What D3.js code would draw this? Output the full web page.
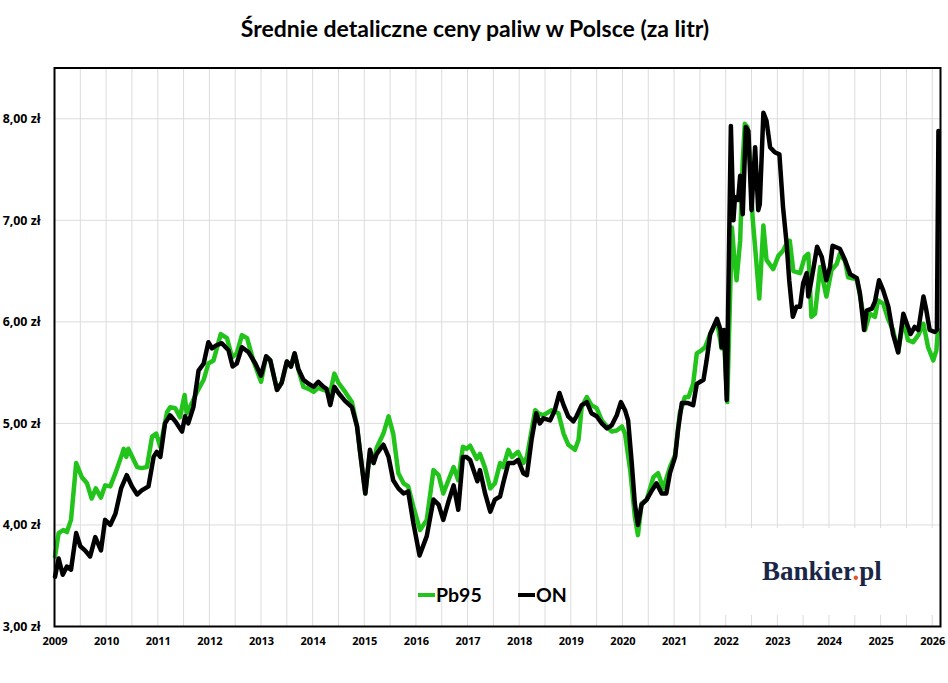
<!DOCTYPE html>
<html>
<head>
<meta charset="utf-8">
<script src="https://cdn.jsdelivr.net/npm/d3@7"></script>
<style>
  body { margin: 0; background: #fff; }
  svg { display: block; }
</style>
</head>
<body>
<svg id="chart" width="948" height="683"></svg>
<script>
// Pb95 - time (decimal year) and price
var pbYears = [2009.01, 2009.08, 2009.17, 2009.24, 2009.32, 2009.42, 2009.53, 2009.63, 2009.72, 2009.80, 2009.90, 2009.98,
  2010.08, 2010.18, 2010.31, 2010.34, 2010.39, 2010.43, 2010.60, 2010.69, 2010.79, 2010.89, 2010.97,
  2011.05, 2011.18, 2011.24, 2011.34, 2011.43, 2011.52, 2011.56, 2011.66, 2011.76, 2011.89, 2011.98,
  2012.08, 2012.22, 2012.34, 2012.44, 2012.53, 2012.63, 2012.73, 2012.85, 2013.00,
  2013.10, 2013.18, 2013.31, 2013.40, 2013.50, 2013.58, 2013.65, 2013.72, 2013.82, 2013.92,
  2014.02, 2014.11, 2014.21, 2014.27, 2014.34, 2014.42, 2014.50, 2014.63, 2014.76, 2014.86, 2014.92,
  2015.02, 2015.11, 2015.18, 2015.24, 2015.37, 2015.47, 2015.56, 2015.66, 2015.76, 2015.85, 2015.95,
  2016.08, 2016.21, 2016.34, 2016.44, 2016.53, 2016.63, 2016.73, 2016.82, 2016.91, 2016.98,
  2017.05, 2017.18, 2017.24, 2017.34, 2017.44, 2017.53, 2017.63, 2017.69, 2017.79, 2017.86, 2017.98,
  2018.08, 2018.15, 2018.31, 2018.37, 2018.47, 2018.63, 2018.76, 2018.86, 2018.95,
  2019.08, 2019.15, 2019.21, 2019.31, 2019.40, 2019.50, 2019.60, 2019.70, 2019.79, 2019.89, 2019.99,
  2020.05, 2020.15, 2020.24, 2020.30, 2020.37, 2020.47, 2020.60, 2020.69, 2020.79, 2020.92,
  2021.02, 2021.11, 2021.21, 2021.28, 2021.37, 2021.44, 2021.53, 2021.60, 2021.70, 2021.83, 2021.92, 2021.97,
  2022.03, 2022.12, 2022.16, 2022.21, 2022.28, 2022.33, 2022.37, 2022.42, 2022.47, 2022.52, 2022.59, 2022.65,
  2022.73, 2022.79, 2022.92, 2023.02, 2023.11, 2023.21, 2023.24, 2023.31, 2023.44, 2023.53, 2023.60,
  2023.66, 2023.73, 2023.83, 2023.95, 2024.05, 2024.15, 2024.21, 2024.31, 2024.37, 2024.54, 2024.63,
  2024.70, 2024.79, 2024.89, 2024.95, 2025.05, 2025.15, 2025.24, 2025.34, 2025.44, 2025.53, 2025.63,
  2025.73, 2025.83, 2025.92, 2026.02, 2026.08, 2026.11];
var pbPrices = [3.69, 3.92, 3.95, 3.93, 4.05, 4.61, 4.47, 4.41, 4.26, 4.36, 4.27, 4.39,
  4.38, 4.51, 4.70, 4.75, 4.67, 4.75, 4.57, 4.56, 4.57, 4.87, 4.90,
  4.77, 5.11, 5.16, 5.15, 5.06, 5.28, 5.10, 5.20, 5.31, 5.43, 5.59,
  5.62, 5.88, 5.84, 5.65, 5.69, 5.87, 5.84, 5.62, 5.41,
  5.66, 5.62, 5.33, 5.40, 5.61, 5.56, 5.69, 5.54, 5.36, 5.34,
  5.31, 5.35, 5.33, 5.32, 5.30, 5.49, 5.40, 5.31, 5.21, 4.97, 4.71,
  4.31, 4.72, 4.61, 4.76, 4.90, 5.07, 4.90, 4.51, 4.41, 4.38, 4.18,
  3.95, 4.05, 4.54, 4.49, 4.31, 4.44, 4.57, 4.44, 4.77, 4.75,
  4.78, 4.65, 4.70, 4.56, 4.36, 4.41, 4.61, 4.57, 4.74, 4.67, 4.72,
  4.61, 4.67, 5.13, 5.10, 5.08, 5.13, 5.10, 4.90, 4.79,
  4.74, 4.84, 5.16, 5.26, 5.18, 5.15, 5.03, 4.97, 4.92, 4.93, 4.97,
  4.90, 4.54, 4.08, 3.90, 4.21, 4.25, 4.47, 4.51, 4.36, 4.57,
  4.69, 5.10, 5.26, 5.26, 5.39, 5.69, 5.72, 5.75, 5.88, 6.01, 5.74, 5.82,
  5.21, 6.93, 6.67, 6.41, 6.80, 7.59, 7.95, 7.92, 7.59, 7.03, 6.61, 6.23,
  6.95, 6.61, 6.52, 6.65, 6.70, 6.80, 6.80, 6.50, 6.48, 6.64, 6.67,
  6.05, 6.08, 6.54, 6.25, 6.51, 6.57, 6.67, 6.60, 6.44, 6.42, 6.18,
  5.92, 6.08, 6.05, 6.21, 6.18, 6.02, 5.92, 5.70, 6.02, 5.82, 5.80,
  5.87, 5.98, 5.75, 5.62, 5.72, 5.92];

// ON (diesel)
var onYears = [2009.01, 2009.08, 2009.16, 2009.24, 2009.32, 2009.42, 2009.50, 2009.59, 2009.69, 2009.79, 2009.90, 2009.98,
  2010.08, 2010.18, 2010.29, 2010.40, 2010.50, 2010.60, 2010.69, 2010.82, 2010.92, 2010.98,
  2011.05, 2011.14, 2011.24, 2011.34, 2011.47, 2011.53, 2011.59, 2011.69, 2011.79, 2011.89, 2011.98,
  2012.05, 2012.14, 2012.24, 2012.37, 2012.45, 2012.53, 2012.63, 2012.76, 2012.89, 2013.00,
  2013.10, 2013.18, 2013.31, 2013.40, 2013.50, 2013.58, 2013.65, 2013.72, 2013.82, 2013.92,
  2014.02, 2014.11, 2014.21, 2014.27, 2014.34, 2014.42, 2014.50, 2014.63, 2014.76, 2014.86, 2014.92,
  2015.02, 2015.11, 2015.18, 2015.24, 2015.37, 2015.47, 2015.56, 2015.66, 2015.76, 2015.85, 2015.95,
  2016.07, 2016.21, 2016.34, 2016.44, 2016.53, 2016.63, 2016.73, 2016.82, 2016.91, 2016.98,
  2017.05, 2017.19, 2017.24, 2017.34, 2017.44, 2017.53, 2017.63, 2017.69, 2017.79, 2017.89, 2017.98,
  2018.08, 2018.15, 2018.24, 2018.33, 2018.40, 2018.47, 2018.60, 2018.69, 2018.78, 2018.86, 2018.95,
  2019.05, 2019.11, 2019.21, 2019.31, 2019.40, 2019.50, 2019.60, 2019.70, 2019.79, 2019.89, 2019.97,
  2020.05, 2020.11, 2020.18, 2020.24, 2020.30, 2020.37, 2020.47, 2020.57, 2020.66, 2020.76, 2020.85, 2020.92,
  2021.02, 2021.08, 2021.15, 2021.27, 2021.37, 2021.44, 2021.57, 2021.63, 2021.70, 2021.83, 2021.90, 2021.92, 2021.97,
  2022.02, 2022.10, 2022.15, 2022.18, 2022.24, 2022.28, 2022.33, 2022.39, 2022.44, 2022.50, 2022.57, 2022.63,
  2022.66, 2022.73, 2022.79, 2022.86, 2022.95, 2023.04, 2023.11, 2023.18, 2023.23, 2023.30, 2023.37, 2023.44,
  2023.50, 2023.57, 2023.60, 2023.66, 2023.77, 2023.86, 2023.95, 2024.02, 2024.07, 2024.21, 2024.31, 2024.41,
  2024.54, 2024.60, 2024.68, 2024.73, 2024.83, 2024.89, 2024.97, 2025.05, 2025.15, 2025.24, 2025.34, 2025.44,
  2025.58, 2025.66, 2025.73, 2025.83, 2025.88, 2025.95, 2026.05, 2026.09, 2026.12];
var onPrices = [3.49, 3.67, 3.51, 3.59, 3.56, 3.92, 3.79, 3.75, 3.69, 3.88, 3.75, 4.05,
  4.00, 4.11, 4.36, 4.49, 4.38, 4.30, 4.34, 4.38, 4.67, 4.72,
  4.67, 5.00, 5.08, 5.02, 4.92, 5.07, 5.00, 5.16, 5.52, 5.59, 5.80,
  5.74, 5.77, 5.79, 5.72, 5.56, 5.59, 5.75, 5.70, 5.59, 5.47,
  5.66, 5.62, 5.33, 5.40, 5.61, 5.56, 5.69, 5.54, 5.43, 5.39,
  5.36, 5.41, 5.36, 5.34, 5.18, 5.36, 5.30, 5.22, 5.16, 4.97, 4.71,
  4.31, 4.74, 4.61, 4.70, 4.79, 4.67, 4.44, 4.36, 4.31, 4.33, 4.02,
  3.70, 3.89, 4.25, 4.20, 4.05, 4.23, 4.39, 4.15, 4.67, 4.67,
  4.64, 4.43, 4.54, 4.31, 4.13, 4.25, 4.28, 4.41, 4.61, 4.61, 4.64,
  4.51, 4.49, 4.84, 5.10, 5.00, 5.05, 5.03, 5.13, 5.30, 5.18, 5.07,
  5.02, 5.07, 5.18, 5.21, 5.10, 5.07, 5.00, 4.95, 4.98, 5.08, 5.21,
  5.13, 5.03, 4.61, 4.21, 4.00, 4.20, 4.25, 4.34, 4.41, 4.31, 4.31, 4.51,
  4.67, 4.95, 5.20, 5.20, 5.18, 5.39, 5.43, 5.62, 5.88, 6.03, 5.92, 5.75, 5.92,
  5.23, 7.93, 7.00, 7.23, 7.20, 7.44, 7.06, 7.92, 7.88, 7.10, 7.72, 7.10,
  7.16, 8.06, 7.98, 7.72, 7.67, 7.65, 7.13, 6.77, 6.41, 6.05, 6.15, 6.15,
  6.38, 6.48, 6.25, 6.41, 6.74, 6.64, 6.41, 6.54, 6.75, 6.72, 6.61, 6.47,
  6.43, 6.28, 5.92, 6.11, 6.13, 6.20, 6.41, 6.31, 6.15, 5.88, 5.70, 6.08,
  5.88, 5.95, 5.92, 6.25, 6.13, 5.92, 5.90, 5.92, 7.88];

var yearTicks = d3.range(2009, 2027);
var priceTicks = [3, 4, 5, 6, 7, 8];

var series = [
  { name: "Pb95", years: pbYears, prices: pbPrices, color: "#22c31a" },
  { name: "ON", years: onYears, prices: onPrices, color: "#000000" }
];

var svg = d3.select("#chart");
var margin = { left: 54.5, right: 7.5, top: 68, bottom: 56.5 };
var width = 948 - margin.left - margin.right;
var height = 683 - margin.top - margin.bottom;

var x = d3.scaleLinear().domain([2009, 2026.16]).range([margin.left, margin.left + width]);
var y = d3.scaleLinear().domain([3, 8.5]).range([margin.top + height, margin.top]);

// Title
svg.append("text")
  .attr("x", 475)
  .attr("y", 37)
  .attr("text-anchor", "middle")
  .style("font-family", "Lato, 'Open Sans', sans-serif")
  .style("font-weight", "bold")
  .style("font-size", "23px")
  .text("Średnie detaliczne ceny paliw w Polsce (za litr)");

// Grid: half-year verticals and one per zloty horizontals
var halfYears = d3.range(2009.5, 2026.01, 0.5);
svg.append("g")
  .selectAll("line")
  .data(halfYears)
  .join("line")
  .attr("x1", d => x(d)).attr("x2", d => x(d))
  .attr("y1", margin.top).attr("y2", margin.top + height)
  .attr("stroke", "#dcdcdc").attr("stroke-width", 1);

svg.append("g")
  .selectAll("line")
  .data(priceTicks.slice(1))
  .join("line")
  .attr("x1", margin.left).attr("x2", margin.left + width)
  .attr("y1", d => y(d)).attr("y2", d => y(d))
  .attr("stroke", "#dcdcdc").attr("stroke-width", 1);

// White box behind the logo
svg.append("rect")
  .attr("x", 725).attr("y", 528)
  .attr("width", 213).attr("height", 87)
  .attr("fill", "#fff");

// Axes labels
var yAxis = d3.axisLeft(y)
  .tickValues(priceTicks)
  .tickSize(0)
  .tickPadding(14)
  .tickFormat(d => d3.format(".2f")(d).replace(".", ",") + " zł");

svg.append("g")
  .attr("transform", `translate(${margin.left},0)`)
  .call(yAxis)
  .call(g => g.select(".domain").remove())
  .selectAll("text")
  .style("font-family", "'Open Sans', sans-serif")
  .style("font-weight", "bold")
  .style("font-size", "12.4px")
  .attr("fill", "#000");

var xAxis = d3.axisBottom(x)
  .tickValues(yearTicks)
  .tickSize(0)
  .tickPadding(11)
  .tickFormat(d3.format("d"));

svg.append("g")
  .attr("transform", `translate(0,${margin.top + height})`)
  .call(xAxis)
  .call(g => g.select(".domain").remove())
  .selectAll("text")
  .style("font-family", "'Open Sans', sans-serif")
  .style("font-weight", "bold")
  .style("font-size", "11px")
  .attr("fill", "#000");

// Lines
var line = d3.line()
  .x(d => x(d[0]))
  .y(d => y(d[1]));

series.forEach(s => {
  svg.append("path")
    .datum(d3.zip(s.years, s.prices))
    .attr("d", line)
    .attr("fill", "none")
    .attr("stroke", s.color)
    .attr("stroke-width", 4.5)
    .attr("stroke-linejoin", "round")
    .attr("stroke-linecap", "round");
});

// Plot frame
svg.append("rect")
  .attr("x", margin.left).attr("y", margin.top)
  .attr("width", width).attr("height", height)
  .attr("fill", "none")
  .attr("stroke", "#000")
  .attr("stroke-width", 2);

// Legend
var legend = svg.append("g").attr("transform", "translate(418,595)");
var legendX = [0, 100];
series.forEach((s, i) => {
  var g = legend.append("g").attr("transform", `translate(${legendX[i]},0)`);
  g.append("line")
    .attr("x1", 0).attr("x2", 17)
    .attr("stroke", s.color)
    .attr("stroke-width", 4);
  g.append("text")
    .attr("x", 18)
    .attr("y", 7)
    .style("font-family", "Lato, 'Open Sans', sans-serif")
    .style("font-weight", "bold")
    .style("font-size", "19.5px")
    .text(s.name);
});

// Logo
var logo = svg.append("text")
  .attr("x", 762)
  .attr("y", 580)
  .style("font-family", "'Liberation Serif', 'DejaVu Serif', serif")
  .style("font-weight", "bold")
  .style("font-size", "27px")
  .attr("fill", "#1b2647");
logo.append("tspan").text("Bankier");
logo.append("tspan").attr("fill", "#e0522a").text(".");
logo.append("tspan").text("pl");
</script>
</body>
</html>
